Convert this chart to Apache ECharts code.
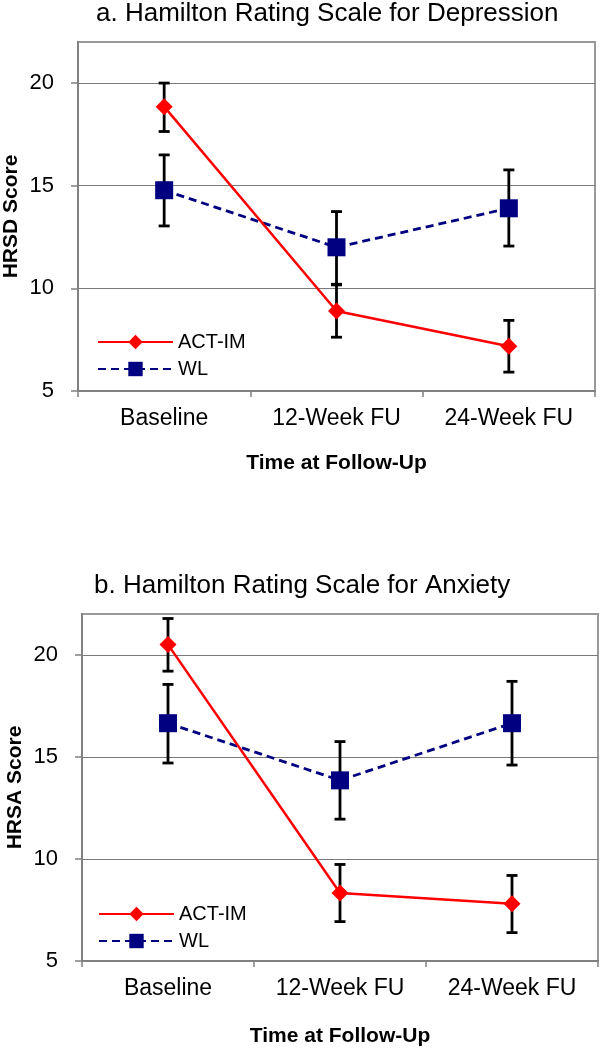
<!DOCTYPE html>
<html>
<head>
<meta charset="utf-8">
<script src="https://cdn.jsdelivr.net/npm/echarts@6/dist/echarts.min.js"></script>
<style>html,body{margin:0;padding:0;background:#fff}#c{width:601px;height:1050px}</style>
</head>
<body>
<div id="c"></div>
<script>
const categories = ['Baseline', '12-Week FU', '24-Week FU'];
const yTicks = [5, 10, 15, 20];

const hrsdAct = [18.85, 8.9, 7.18];
const hrsdActLow = [17.64, 7.62, 5.92];
const hrsdActHigh = [20.0, 10.17, 8.44];
const hrsdWl = [14.78, 12.0, 13.9];
const hrsdWlLow = [13.04, 10.2, 12.06];
const hrsdWlHigh = [16.5, 13.74, 15.77];

const hrsaAct = [20.5, 8.33, 7.8];
const hrsaActLow = [19.2, 6.93, 6.39];
const hrsaActHigh = [21.78, 9.73, 9.19];
const hrsaWl = [16.65, 13.85, 16.65];
const hrsaWlLow = [14.7, 11.95, 14.6];
const hrsaWlHigh = [18.55, 15.75, 18.7];

const FONT = 'Liberation Sans, Arial, sans-serif';

function errData(lo, hi) { return lo.map((v, i) => [i, v, hi[i]]); }

function errSeries(lo, hi, gi) {
  return {
    type: 'custom', xAxisIndex: gi, yAxisIndex: gi, z: 1, silent: true,
    data: errData(lo, hi),
    renderItem: function (params, api) {
      const p1 = api.coord([api.value(0), api.value(1)]);
      const p2 = api.coord([api.value(0), api.value(2)]);
      const hw = 5.5;
      const st = { stroke: '#000', lineWidth: 2.8 };
      return { type: 'group', children: [
        { type: 'line', shape: { x1: p1[0], y1: p1[1], x2: p2[0], y2: p2[1] }, style: st },
        { type: 'line', shape: { x1: p1[0] - hw, y1: p1[1], x2: p1[0] + hw, y2: p1[1] }, style: st },
        { type: 'line', shape: { x1: p2[0] - hw, y1: p2[1], x2: p2[0] + hw, y2: p2[1] }, style: st }
      ]};
    }
  };
}

function actSeries(d, gi) {
  return { name: 'ACT-IM', type: 'line', xAxisIndex: gi, yAxisIndex: gi, z: 3, data: d,
    symbol: 'diamond', symbolSize: 17, itemStyle: { color: '#ff0000' },
    lineStyle: { color: '#ff0000', width: 2.5, type: 'solid' } };
}
function wlSeries(d, gi) {
  return { name: 'WL', type: 'line', xAxisIndex: gi, yAxisIndex: gi, z: 2, data: d,
    symbol: 'rect', symbolSize: 18, itemStyle: { color: '#000080' },
    lineStyle: { color: '#000080', width: 2.8, type: [8, 5] } };
}

function xAxis(gi, gap) {
  return { type: 'category', gridIndex: gi, data: categories, boundaryGap: true,
    name: 'Time at Follow-Up', nameLocation: 'middle', nameGap: gap, nameMoveOverlap: false,
    nameTextStyle: { fontFamily: FONT, fontWeight: 'bold', fontSize: 21, color: '#000' },
    axisLine: { lineStyle: { color: '#808080', width: 2 } },
    axisTick: { show: true, length: 6, lineStyle: { color: '#808080', width: 1.5 } },
    axisLabel: { fontFamily: FONT, fontSize: 23, color: '#000', margin: 16 },
    splitLine: { show: false } };
}
function yAxis(gi, name) {
  return { type: 'value', gridIndex: gi, min: 5, max: 22, interval: 5,
    name: name, nameLocation: 'middle', nameGap: 56, nameRotate: 90, nameMoveOverlap: false,
    nameTextStyle: { fontFamily: FONT, fontWeight: 'bold', fontSize: 21, color: '#000' },
    axisLine: { show: true, lineStyle: { color: '#808080', width: 2 } },
    axisTick: { show: true, length: 7, customValues: yTicks, lineStyle: { color: '#808080', width: 1.5 } },
    axisLabel: { fontFamily: FONT, fontSize: 22, color: '#000', margin: 24, customValues: yTicks },
    splitLine: { show: true, lineStyle: { color: '#7a7a7a', width: 1.2 } } };
}

const legendText = { fontFamily: FONT, fontSize: 20, color: '#000' };

const chart = echarts.init(document.getElementById('c'), null, { renderer: 'canvas' });
chart.setOption({
  animation: false,
  backgroundColor: '#fff',
  title: [
    { text: 'a. Hamilton Rating Scale for Depression', left: 91, top: -4,
      textStyle: { fontFamily: FONT, fontWeight: 'normal', fontSize: 26, color: '#000' } },
    { text: 'b. Hamilton Rating Scale for Anxiety', left: 89, top: 568,
      textStyle: { fontFamily: FONT, fontWeight: 'normal', fontSize: 26, color: '#000' } }
  ],
  legend: [
    { data: ['ACT-IM', 'WL'], orient: 'vertical', left: 92, top: 327, itemWidth: 75, itemHeight: 18, itemGap: 7,
      textStyle: legendText, selectedMode: false },
    { data: ['ACT-IM', 'WL'], orient: 'vertical', left: 93, top: 899, itemWidth: 75, itemHeight: 18, itemGap: 7,
      textStyle: legendText, selectedMode: false }
  ],
  grid: [
    { left: 78, right: 6, top: 42, height: 349, containLabel: false, outerBoundsMode: 'none',
      show: true, borderColor: '#999', borderWidth: 2, backgroundColor: 'transparent' },
    { left: 82, right: 3, top: 614, height: 347, containLabel: false, outerBoundsMode: 'none',
      show: true, borderColor: '#999', borderWidth: 2, backgroundColor: 'transparent' }
  ],
  xAxis: [xAxis(0, 62), xAxis(1, 65)],
  yAxis: [yAxis(0, 'HRSD Score'), yAxis(1, 'HRSA Score')],
  series: [
    errSeries(hrsdActLow, hrsdActHigh, 0),
    errSeries(hrsdWlLow, hrsdWlHigh, 0),
    actSeries(hrsdAct, 0),
    wlSeries(hrsdWl, 0),
    errSeries(hrsaActLow, hrsaActHigh, 1),
    errSeries(hrsaWlLow, hrsaWlHigh, 1),
    actSeries(hrsaAct, 1),
    wlSeries(hrsaWl, 1)
  ]
});
</script>
</body>
</html>
